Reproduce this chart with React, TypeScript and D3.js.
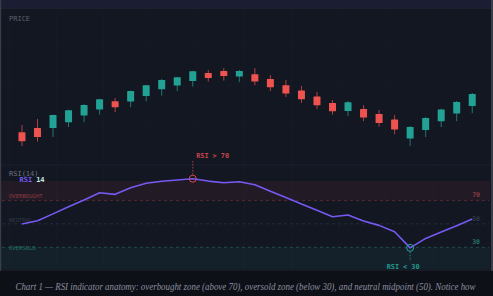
import React from 'react';
import * as d3 from 'd3';

// OHLC candles for the price panel
const opens = [106.9, 109.0, 109.0, 111.9, 115.2, 118.2, 122.4, 122.2, 125.0, 128.4, 130.2, 132.5, 136.5, 137.5, 134.7, 135.9, 133.5, 130.4, 127.7, 124.7, 121.5, 117.5, 118.5, 116.0, 113.2, 103.7, 108.0, 112.4, 116.2, 120.0];
const highs = [110.5, 113.5, 115.7, 118.1, 120.9, 123.6, 124.0, 127.7, 130.6, 133.5, 134.6, 137.6, 138.0, 139.0, 138.0, 138.9, 135.4, 133.0, 130.0, 127.0, 123.0, 122.5, 120.4, 118.0, 115.5, 110.0, 114.5, 118.7, 122.5, 126.5];
const lows = [100.0, 102.2, 104.5, 109.5, 111.9, 115.7, 117.0, 119.4, 122.4, 125.2, 127.5, 129.7, 132.2, 132.7, 131.9, 130.4, 127.5, 124.5, 121.5, 118.5, 115.7, 114.9, 112.4, 109.7, 105.9, 100.0, 104.5, 109.5, 112.4, 116.4];
const closes = [102.4, 104.5, 115.5, 117.9, 120.5, 123.4, 119.4, 127.5, 130.4, 133.0, 134.4, 137.4, 134.0, 135.0, 137.5, 132.2, 129.4, 126.2, 123.4, 120.4, 117.4, 121.9, 114.2, 111.5, 108.2, 109.5, 114.0, 118.2, 122.0, 126.0];

// RSI(14) readings, one per candle
const rsiValues = [49.8, 52.6, 58.5, 64.5, 70.3, 76.5, 75.1, 80.7, 84.5, 86.2, 87.3, 88.4, 86.4, 85.0, 85.8, 83.3, 77.7, 72.4, 66.9, 61.6, 56.0, 57.5, 52.4, 48.7, 43.3, 29.6, 37.6, 43.0, 48.4, 54.1];

const levels = [
  { value: 70, name: 'OVERBOUGHT', tick: '70', line: '#6e2f37', text: '#8c3a42' },
  { value: 50, name: 'NEUTRAL', tick: '50', line: '#2c3142', text: '#323849' },
  { value: 30, name: 'OVERSOLD', tick: '30', line: '#1f5752', text: '#247067' },
];

const caption =
  'Chart 1 — RSI indicator anatomy: overbought zone (above 70), oversold zone (below 30), and neutral midpoint (50). Notice how';

const W = 493;
const H = 296;
const UP = '#22a295';
const DOWN = '#ef5350';
const LINE = '#7659f2';
const MONO = '"DejaVu Sans Mono", monospace';

export default function App() {
  const x = d3.scaleBand<number>().domain(d3.range(opens.length)).range([14.2, 480]);
  const cx = (i: number) => (x(i) ?? 0) + x.bandwidth() / 2;
  const bodyW = 7;

  const yP = d3.scaleLinear().domain([100, 139]).range([146, 68]);
  const yR = d3.scaleLinear().domain([0, 100]).range([282.6, 165.1]);

  const rsiTop = 181;
  const rsiBottom = 269.5;

  const rsiLine = d3
    .line<number>()
    .x((_, i) => cx(i))
    .y((d) => yR(d));

  const peak = d3.maxIndex(rsiValues);
  const trough = d3.minIndex(rsiValues);

  const gridX = d3.range(11).map((k) => 9 + ((480 - 9) * k) / 10);
  const gridPrice = [110, 130, 150];

  return (
    <div style={{ position: 'fixed', left: 0, top: 0, width: W, height: H }}>
      <svg width={W} height={H} style={{ display: 'block' }}>
        <defs>
          <clipPath id="rsiClip">
            <rect x={1} y={rsiTop} width={489} height={rsiBottom - rsiTop} />
          </clipPath>
        </defs>

        {/* backgrounds */}
        <rect x={0} y={0} width={W} height={H} fill="#0e1017" />
        <rect x={0} y={0} width={W} height={8.5} fill="#1b1d33" />
        <rect x={0} y={8.5} width={W} height={0.8} fill="#262a3d" />
        <rect x={1} y={9.3} width={490} height={261.5} fill="#131722" />
        <rect x={0} y={0} width={1.2} height={271} fill="#3a3d47" />
        <rect x={491} y={0} width={2} height={271} fill="#3a3d47" />

        {/* faint grid */}
        <g stroke="#181c28" strokeWidth={0.8}>
          {gridX.map((gx, i) => (
            <line key={'gx' + i} x1={gx} x2={gx} y1={10} y2={rsiBottom} />
          ))}
          {gridPrice.map((p) => (
            <line key={'gp' + p} x1={2} x2={489} y1={yP(p)} y2={yP(p)} />
          ))}
        </g>

        <text x={9} y={21} fontFamily={MONO} fontSize={7} fill="#5b606d">
          PRICE
        </text>

        {/* candles */}
        {opens.map((o, i) => {
          const c = closes[i];
          const col = c >= o ? UP : DOWN;
          const top = yP(Math.max(o, c));
          const bot = yP(Math.min(o, c));
          return (
            <g key={i}>
              <line x1={cx(i)} x2={cx(i)} y1={yP(highs[i])} y2={yP(lows[i])} stroke={col} strokeOpacity={0.7} strokeWidth={1} />
              <rect x={cx(i) - bodyW / 2} y={top} width={bodyW} height={Math.max(1, bot - top)} fill={col} rx={0.5} />
            </g>
          );
        })}

        {/* RSI panel separator */}
        <rect x={1} y={164.5} width={490} height={1} fill="#1d2130" />

        {/* zones */}
        <g clipPath="url(#rsiClip)">
          <rect x={1} y={yR(100)} width={490} height={yR(70) - yR(100)} fill="#ef5350" fillOpacity={0.07} />
          <rect x={1} y={yR(30)} width={490} height={yR(0) - yR(30)} fill="#26a69a" fillOpacity={0.07} />
        </g>
        <rect x={1} y={rsiBottom} width={490} height={1.5} fill="#171b26" />

        {levels.map((l) => (
          <g key={l.name}>
            <line x1={2} x2={489} y1={yR(l.value)} y2={yR(l.value)} stroke={l.line} strokeWidth={0.8} strokeDasharray="3,3" />
            <text x={9} y={l.value === 30 ? yR(l.value) + 2.3 : yR(l.value) - 2.3} fontFamily={MONO} fontSize={5.6} fill={l.text}>
              {l.name}
            </text>
            <text x={480} y={yR(l.value) - 3} textAnchor="end" fontFamily={MONO} fontSize={6.5} fontWeight="bold" fill={l.text}>
              {l.tick}
            </text>
          </g>
        ))}

        <text x={9} y={176} fontFamily={MONO} fontSize={7} fill="#6a6f7e">
          RSI(14)
        </text>
        <text x={19.5} y={181.5} fontFamily={MONO} fontSize={7} fontWeight="bold">
          <tspan fill={LINE}>RSI</tspan>
          <tspan dx={4} fill="#cde6ec">14</tspan>
        </text>

        {/* markers */}
        <line x1={cx(peak)} x2={cx(peak)} y1={161} y2={yR(rsiValues[peak]) - 4} stroke="#a8404a" strokeWidth={1} strokeDasharray="1.5,1.5" />
        <text x={cx(peak) + 3.5} y={158} fontFamily={MONO} fontSize={6.8} fontWeight="bold" fill="#c9444b">
          RSI &gt; 70
        </text>
        <line x1={cx(trough)} x2={cx(trough)} y1={yR(rsiValues[trough]) + 4} y2={261} stroke="#26a69a" strokeOpacity={0.8} strokeWidth={1} strokeDasharray="1.5,1.5" />
        <text x={cx(trough) - 7} y={268.5} textAnchor="middle" fontFamily={MONO} fontSize={6.8} fontWeight="bold" fill="#22998d">
          RSI &lt; 30
        </text>

        <path d={rsiLine(rsiValues) ?? ''} fill="none" stroke={LINE} strokeWidth={1.6} strokeLinejoin="round" />

        <circle cx={cx(peak)} cy={yR(rsiValues[peak])} r={3.5} fill="none" stroke="#e0484d" strokeWidth={1} />
        <circle cx={cx(trough)} cy={yR(rsiValues[trough])} r={3.5} fill="none" stroke="#26a69a" strokeWidth={1} />

        {/* caption */}
        <text
          x={15.5}
          y={289.5}
          fontFamily='"Liberation Serif", "DejaVu Serif", serif'
          fontStyle="italic"
          fontSize={9.6}
          fill="#8a8f9f"
          textLength={460}
          lengthAdjust="spacingAndGlyphs"
        >
          {caption}
        </text>
      </svg>
    </div>
  );
}
